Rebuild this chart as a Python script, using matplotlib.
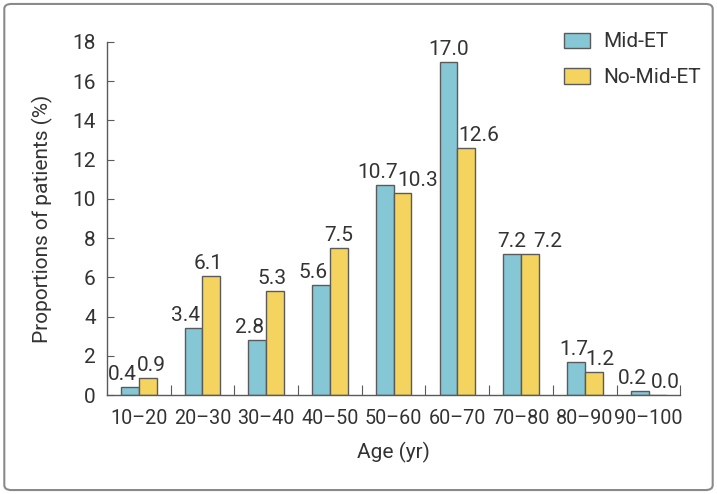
import matplotlib
matplotlib.use("Agg")
import matplotlib.pyplot as plt
from matplotlib.patches import FancyBboxPatch
import numpy as np

plt.rcParams['font.family'] = ['Roboto', 'DejaVu Sans']

# 数据
age_groups = ['10–20', '20–30', '30–40', '40–50', '50–60',
              '60–70', '70–80', '80–90', '90–100']
mid_et = [0.4, 3.4, 2.8, 5.6, 10.7, 17.0, 7.2, 1.7, 0.2]
no_mid_et = [0.9, 6.1, 5.3, 7.5, 10.3, 12.6, 7.2, 1.2, 0.0]

# 数值标签的水平偏移（像素），原图手工摆放
mid_dx = [-7, -8, -8, -8, -7, 0, 0, -2, -7]
no_mid_dx = [4, -3, -3, 0, 15, 12, 18, 6, 8]

blue = '#86C7D6'
yellow = '#F4D45E'
edge = '#5a5a5a'
text_color = '#333333'
fs = 15

fig = plt.figure(figsize=(7.17, 4.94), dpi=100)
ax = fig.add_axes([0.149, 0.200, 0.800, 0.715])

x = np.arange(len(age_groups))
w = 0.28
b1 = ax.bar(x - w / 2, mid_et, w, color=blue, edgecolor=edge, linewidth=1.0, label='Mid-ET')
b2 = ax.bar(x + w / 2, no_mid_et, w, color=yellow, edgecolor=edge, linewidth=1.0, label='No-Mid-ET')

for bars, offs in ((b1, mid_dx), (b2, no_mid_dx)):
    for rect, dx in zip(bars, offs):
        h = rect.get_height()
        ax.annotate(f'{h:.1f}', (rect.get_x() + rect.get_width() / 2, h),
                    xytext=(dx, 3), textcoords='offset pixels',
                    ha='center', va='bottom', fontsize=fs, color=text_color)

ax.set_xlim(-0.5, len(age_groups) - 0.5)
ax.set_ylim(0, 18)
ax.set_yticks(np.arange(0, 19, 2))
ax.tick_params(axis='y', direction='in', length=5, color=edge, labelsize=fs,
               labelcolor=text_color, pad=8)

# x 轴：刻度在组之间，标签在组中心
ax.set_xticks(x + 0.5)
ax.set_xticklabels([])
ax.set_xticks(x, minor=True)
ax.set_xticklabels(age_groups, minor=True)
ax.tick_params(axis='x', which='major', direction='in', length=7, color=edge)
ax.tick_params(axis='x', which='minor', length=0, labelsize=14.2,
               labelcolor=text_color, pad=10)

for side in ('top', 'right'):
    ax.spines[side].set_visible(False)
for side in ('left', 'bottom'):
    ax.spines[side].set_color(edge)
    ax.spines[side].set_linewidth(1.0)

ax.set_xlabel('Age (yr)', fontsize=fs, color=text_color, labelpad=10)
ax.set_ylabel('Proportions of patients (%)', fontsize=fs, color=text_color, labelpad=14)

ax.legend(loc='upper left', bbox_to_anchor=(0.765, 1.08), frameon=False, fontsize=fs,
          handlelength=1.25, handleheight=0.75, labelspacing=0.8, handletextpad=0.6,
          labelcolor=text_color)

# 外边框（圆角）
border = FancyBboxPatch((0.006, 0.008), 0.988, 0.984, boxstyle='round,pad=0,rounding_size=0.01',
                        transform=fig.transFigure, fill=False, edgecolor='#8a8a8a', linewidth=1.5)
fig.patches.append(border)

fig.savefig('out.png', dpi=100)
